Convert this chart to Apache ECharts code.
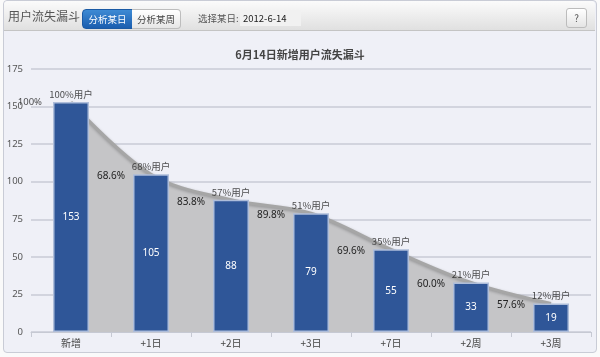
<!DOCTYPE html>
<html>
<head>
<meta charset="utf-8">
<script src="https://cdn.jsdelivr.net/npm/echarts@6/dist/echarts.min.js"></script>
<style>
html,body{margin:0;padding:0;background:#fafafa;font-family:"Noto Sans CJK SC","Noto Sans",sans-serif;}
#wrap{position:relative;width:600px;height:357px;overflow:hidden;}
#panel{position:absolute;left:3px;top:0;width:592px;height:351px;border:1px solid #c9ccd6;border-radius:4px;background:#eff0f7;}
#header{position:absolute;left:4px;top:1px;width:591px;height:29px;background:linear-gradient(#fbfbfb,#e0e0e0);border-bottom:1px solid #c4c4c4;border-radius:4px 4px 0 0;}
#chart{position:absolute;left:0;top:0;width:600px;height:357px;}
.t{position:absolute;white-space:nowrap;}
</style>
</head>
<body>
<div id="wrap">
<div id="panel"></div>
<div id="chart"></div>
<div id="header">
  <div class="t" style="left:4px;top:6px;font-size:12px;color:#555;">用户流失漏斗</div>
  <div class="t" style="left:78px;top:8px;width:49px;height:18px;line-height:18px;text-align:center;font-size:9.5px;color:#fff;background:linear-gradient(#3d8ad4,#1b5eaf);border:1px solid #1a5aa5;border-radius:4px 0 0 4px;">分析某日</div>
  <div class="t" style="left:128px;top:8px;width:48px;height:18px;line-height:18px;text-align:center;font-size:9.5px;color:#444;background:linear-gradient(#ffffff,#e6e6e6);border:1px solid #bdbdbd;border-left:none;border-radius:0 4px 4px 0;">分析某周</div>
  <div class="t" style="left:194px;top:9px;line-height:16px;font-size:9.5px;color:#555;">选择某日:</div>
  <div class="t" style="left:236px;top:9px;width:58px;height:16px;line-height:16px;font-size:9.5px;color:#222;background:#f1f1f1;padding-left:3px;">2012-6-14</div>
  <div class="t" style="left:562px;top:7px;width:19px;height:18px;line-height:18px;text-align:center;font-size:10px;color:#555;background:linear-gradient(#ffffff,#e4e4e4);border:1px solid #bcbcbc;border-radius:3px;">?</div>
</div>
</div>
<script>
var categories = ['新增', '+1日', '+2日', '+3日', '+7日', '+2周', '+3周'];
var users = [153, 105, 88, 79, 55, 33, 19];
var shareLabels = ['100%用户', '68%用户', '57%用户', '51%用户', '35%用户', '21%用户', '12%用户'];
var stepRatios = [68.6, 83.8, 89.8, 69.6, 60.0, 57.6];
var yTicks = {min: 0, max: 175, interval: 25};

var ratioData = stepRatios.map(function (r, i) { return [i, users[i + 1], r]; });

var chart = echarts.init(document.getElementById('chart'), null, {renderer: 'canvas'});
chart.setOption({
  animation: false,
  title: {
    text: '6月14日新增用户流失漏斗',
    left: 'center',
    top: 44,
    textStyle: {fontSize: 11, fontWeight: 'bold', color: '#444', fontFamily: 'Noto Sans CJK SC'}
  },
  grid: {left: 31, right: 9, top: 69, bottom: 25},
  xAxis: {
    type: 'category',
    data: categories,
    axisLine: {lineStyle: {color: '#c6c9d3', width: 1}},
    axisTick: {show: true, length: 5, lineStyle: {color: '#c6c9d3'}},
    axisLabel: {fontSize: 10, color: '#444', margin: 6, fontFamily: 'Noto Sans CJK SC'}
  },
  yAxis: {
    type: 'value',
    min: yTicks.min, max: yTicks.max, interval: yTicks.interval,
    axisLine: {show: false},
    axisTick: {show: false},
    axisLabel: {fontSize: 9.5, color: '#555', margin: 8, fontFamily: 'Noto Sans'},
    splitLine: {lineStyle: {color: '#d2d4de', width: 2}}
  },
  series: [
    {
      type: 'line',
      data: users,
      smooth: 0.35,
      symbol: 'none',
      z: 1,
      lineStyle: {color: '#a6a6a6', width: 3, shadowColor: 'rgba(0,0,0,0.25)', shadowBlur: 3, shadowOffsetY: 1},
      areaStyle: {color: '#c5c5c7', opacity: 1}
    },
    {
      type: 'bar',
      data: users,
      barWidth: 36,
      z: 3,
      itemStyle: {color: '#2f5698', borderColor: '#aebdda', borderWidth: 1.5},
      label: {show: true, position: 'inside', color: '#fff', fontSize: 10, fontFamily: 'Noto Sans'}
    },
    {
      type: 'scatter',
      data: users,
      symbolSize: 0,
      z: 4,
      label: {
        show: true, position: 'top', distance: 3, color: '#222', fontSize: 9.5, fontFamily: 'Noto Sans CJK SC',
        formatter: function (p) { return shareLabels[p.dataIndex]; }
      }
    },
    {
      type: 'scatter',
      data: [[0, users[0]]],
      symbolSize: 0,
      z: 4,
      label: {show: true, position: 'left', distance: 29, color: '#222', fontSize: 9.5, fontFamily: 'Noto Sans',
        formatter: function () { return '100%'; }}
    },
    {
      type: 'custom',
      data: ratioData,
      z: 5,
      renderItem: function (params, api) {
        var pt = api.coord([api.value(0), api.value(1)]);
        var band = api.size([1, 0])[0];
        return {
          type: 'text',
          x: pt[0] + band / 2,
          y: pt[1] + 2,
          style: {
            text: api.value(2).toFixed(1) + '%',
            align: 'center', verticalAlign: 'middle',
            fill: '#222', fontSize: 10, fontFamily: 'Noto Sans'
          }
        };
      }
    }
  ]
});
</script>
</body>
</html>
